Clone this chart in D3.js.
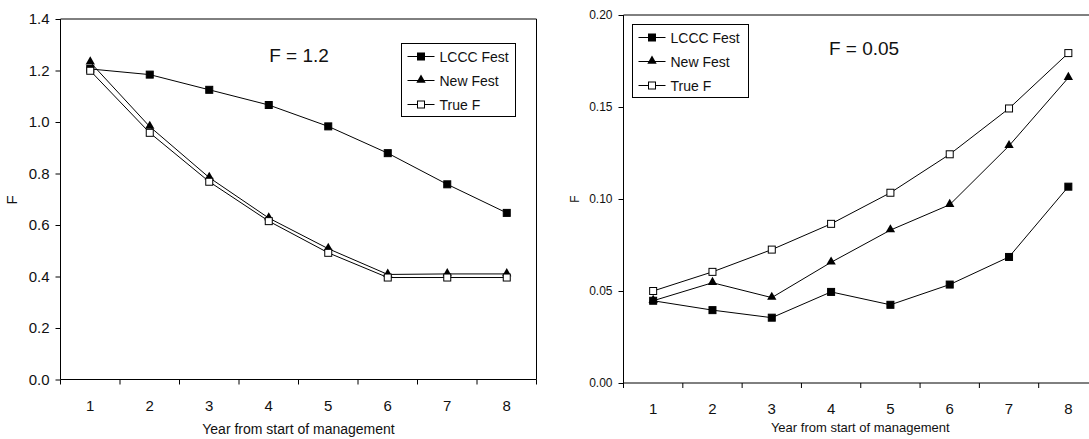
<!DOCTYPE html>
<head>
    <meta charset="utf-8">
    <script src="https://d3js.org/d3.v7.min.js"></script>
    <style type="text/css">
        body { margin: 0; background: #fff; }
        svg text { font-family: "Liberation Sans", Arial, sans-serif; fill: #111; }
    </style>
</head>
<body>

<script type="text/javascript">
    // data
    var years = [1, 2, 3, 4, 5, 6, 7, 8],
        seriesNames = ["LCCC Fest", "New Fest", "True F"],
        markers = ["square", "triangle", "open"];

    // F = 1.2 panel
    var highLCCC = [1.206, 1.184, 1.125, 1.066, 0.983, 0.879, 0.758, 0.647],
        highNew  = [1.232, 0.982, 0.784, 0.627, 0.508, 0.408, 0.410, 0.410],
        highTrue = [1.199, 0.958, 0.768, 0.615, 0.492, 0.396, 0.396, 0.396],
        highTicks = [0, 0.2, 0.4, 0.6, 0.8, 1.0, 1.2, 1.4];

    // F = 0.05 panel
    var lowLCCC = [0.0447, 0.0396, 0.0355, 0.0495, 0.0425, 0.0535, 0.0685, 0.1067],
        lowNew  = [0.0447, 0.0545, 0.0464, 0.0656, 0.0831, 0.0969, 0.1289, 0.1659],
        lowTrue = [0.0500, 0.0604, 0.0725, 0.0865, 0.1034, 0.1243, 0.1492, 0.1793],
        lowTicks = [0, 0.05, 0.10, 0.15, 0.20];
</script>

<script type="text/javascript">
    var W = 1089, H = 439;
    var svg = d3.select("body").append("svg")
        .attr("width", W).attr("height", H);

    function drawMarker(g, type, x, y) {
        if (type == "triangle") {
            g.append("path")
                .attr("d", d3.symbol().type(d3.symbolTriangle).size(38)())
                .attr("transform", "translate(" + x + "," + (y - 0.5) + ")")
                .attr("fill", "#000");
        } else {
            g.append("rect")
                .attr("x", x - 3.5).attr("y", y - 3.5)
                .attr("width", 7).attr("height", 7)
                .attr("fill", type == "open" ? "#fff" : "#000")
                .attr("stroke", "#000").attr("stroke-width", 1);
        }
    }

    function panel(opt) {
        var g = svg.append("g");
        var x = d3.scaleBand().domain(years).range([opt.left, opt.right]);
        var y = d3.scaleLinear().domain([0, opt.ymax]).range([opt.bottom, opt.top]);

        // frame
        g.append("line").attr("x1", opt.left).attr("x2", opt.right)
            .attr("y1", opt.top).attr("y2", opt.top).attr("stroke", "#000");
        if (opt.rightBorder) {
            g.append("line").attr("x1", opt.right).attr("x2", opt.right)
                .attr("y1", opt.top).attr("y2", opt.bottom).attr("stroke", "#000");
        }

        // y axis
        var ya = g.append("g").attr("transform", "translate(" + opt.left + ",0)")
            .call(d3.axisLeft(y).tickValues(opt.ticks).tickSize(5).tickPadding(6)
                .tickFormat(d3.format(opt.fmt)));
        ya.selectAll("path, line").attr("stroke", "#000");
        ya.selectAll("text").style("font-size", opt.yFont + "px").attr("fill", "#111");
        ya.select(".domain").attr("d", "M0," + opt.top + "V" + opt.bottom);

        // x axis (ticks between categories)
        var bounds = d3.range(years.length + 1).map(function(i) { return opt.left + i * x.step(); });
        g.append("line").attr("x1", opt.left).attr("x2", opt.right)
            .attr("y1", opt.bottom).attr("y2", opt.bottom).attr("stroke", "#000");
        g.selectAll("line.xt").data(bounds).enter().append("line")
            .attr("class", "xt")
            .attr("x1", function(d) { return d; }).attr("x2", function(d) { return d; })
            .attr("y1", opt.bottom).attr("y2", opt.bottom + 5)
            .attr("stroke", "#000");
        g.selectAll("text.xl").data(years).enter().append("text")
            .attr("class", "xl")
            .attr("x", function(d) { return x(d) + x.bandwidth() / 2; })
            .attr("y", opt.bottom + 31)
            .attr("text-anchor", "middle")
            .style("font-size", "15px")
            .text(function(d) { return d; });

        g.append("text")
            .attr("x", (opt.left + Math.min(opt.right, W)) / 2 + opt.titleShift)
            .attr("y", opt.xTitleY)
            .attr("text-anchor", "middle")
            .style("font-size", opt.xTitleFont + "px")
            .text("Year from start of management");

        g.append("text")
            .attr("transform", "translate(" + opt.fX + "," + opt.fY + ") rotate(-90)")
            .attr("text-anchor", "middle")
            .style("font-size", opt.fFont + "px")
            .text("F");

        g.append("text")
            .attr("x", opt.labelX).attr("y", opt.labelY)
            .attr("text-anchor", "middle")
            .style("font-size", "19px")
            .text(opt.label);

        // series
        var line = d3.line()
            .x(function(d, i) { return x(years[i]) + x.bandwidth() / 2; })
            .y(function(d) { return y(d); });
        opt.series.forEach(function(s, k) {
            g.append("path").datum(s)
                .attr("d", line)
                .attr("fill", "none")
                .attr("stroke", "#000")
                .attr("stroke-width", 1);
        });
        opt.series.forEach(function(s, k) {
            s.forEach(function(v, i) {
                drawMarker(g, markers[k], x(years[i]) + x.bandwidth() / 2, y(v));
            });
        });

        // legend
        var lg = g.append("g").attr("transform", "translate(" + opt.lgX + "," + opt.lgY + ")");
        lg.append("rect").attr("width", opt.lgW).attr("height", 73)
            .attr("fill", "#fff").attr("stroke", "#000");
        seriesNames.forEach(function(n, k) {
            var ry = 13 + k * 24;
            lg.append("line").attr("x1", 6).attr("x2", 33)
                .attr("y1", ry).attr("y2", ry).attr("stroke", "#000");
            drawMarker(lg, markers[k], 19.5, ry);
            lg.append("text").attr("x", 38).attr("y", ry + 5)
                .style("font-size", "14px").text(n);
        });
    }

    panel({
        left: 60.5, right: 536.5, top: 19, bottom: 379.5, ymax: 1.4,
        ticks: highTicks, fmt: ".1f", yFont: 15, rightBorder: true,
        series: [highLCCC, highNew, highTrue],
        xTitleY: 434, xTitleFont: 14, titleShift: 0,
        fX: 17, fY: 200, fFont: 15,
        label: "F = 1.2", labelX: 299, labelY: 62,
        lgX: 401.5, lgY: 43.5, lgW: 114
    });

    panel({
        left: 623.5, right: 1098, top: 15, bottom: 383, ymax: 0.2,
        ticks: lowTicks, fmt: ".2f", yFont: 12, rightBorder: false,
        series: [lowLCCC, lowNew, lowTrue],
        xTitleY: 432, xTitleFont: 13, titleShift: 4,
        fX: 579, fY: 199, fFont: 12,
        label: "F = 0.05", labelX: 864, labelY: 55,
        lgX: 632.5, lgY: 24.5, lgW: 116
    });
</script>
</body>
</html>
